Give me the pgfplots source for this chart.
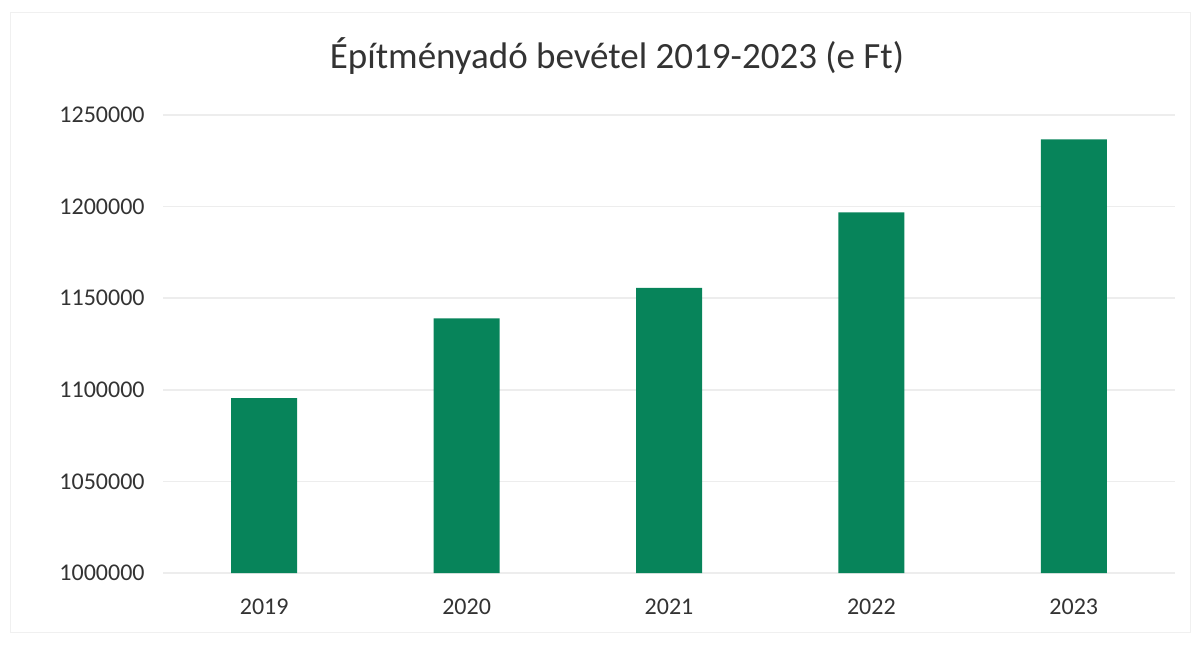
\documentclass[border=0pt]{standalone}
\usepackage{fontspec}
\setmainfont{Carlito}
\usepackage{pgfplots}
\pgfplotsset{compat=1.18}
\definecolor{barg}{HTML}{07845A}
\definecolor{txt}{HTML}{333333}
\definecolor{gridc}{HTML}{EDEDED}
\begin{document}
\begin{tikzpicture}[x=1pt,y=1pt]
\useasboundingbox (0,0) rectangle (600,322);
\draw[gray!12] (5,6) rectangle (595,316);
\begin{axis}[
  at={(81.5pt,35.5pt)}, anchor=south west,
  scale only axis, width=506pt, height=229pt,
  xmin=-0.5, xmax=4.5, ymin=1000000, ymax=1250000,
  ytick={1000000,1050000,1100000,1150000,1200000,1250000},
  xtick={0,1,2,3,4}, xticklabels={2019,2020,2021,2022,2023},
  ymajorgrids, grid style={draw=gridc, line width=0.8pt},
  axis line style={draw=none}, major tick length=0pt,
  ybar, bar width=33pt,
  scaled y ticks=false,
  /pgf/number format/assume math mode=true,
  yticklabel style={/pgf/number format/fixed, /pgf/number format/1000 sep={},
    anchor=east, inner sep=0pt, xshift=-9pt, font=\fontsize{12}{14}\selectfont, text=txt},
  xticklabel style={anchor=center, inner sep=0pt, yshift=-17pt,
    font=\fontsize{12}{14}\selectfont, text=txt},
  title={Építményadó bevétel 2019-2023 (e Ft)},
  title style={at={(axis description cs:0.4486,1)}, anchor=center, yshift=23.5pt,
    font=\fontsize{18.5}{22}\selectfont, text=txt},
]
\addplot[fill=barg, draw=none, bar shift=0pt] coordinates {
  (0,1095400) (1,1139000) (2,1155700) (3,1196900) (4,1236700)
};
\end{axis}
\end{tikzpicture}
\end{document}
